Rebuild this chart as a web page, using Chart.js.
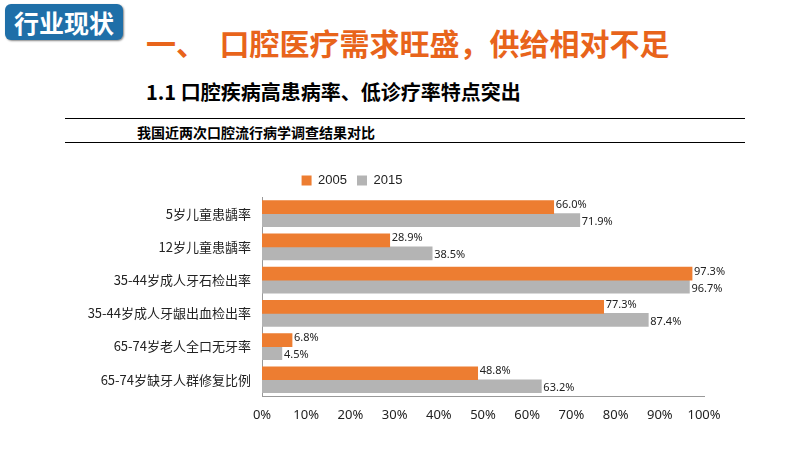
<!DOCTYPE html>
<html><head><meta charset="utf-8">
<script src="https://cdn.jsdelivr.net/npm/chart.js@4"></script>
<style>
body{margin:0;width:800px;height:450px;background:#fff;font-family:"Noto Sans CJK SC",sans-serif;position:relative;overflow:hidden}
.tag{position:absolute;left:5px;top:4px;width:118px;height:36px;background:#1f6fa8;border-radius:6px;color:#fff;font-size:25px;font-weight:bold;line-height:36px;text-align:center;box-shadow:1px 1px 2px #888}
.t1{position:absolute;left:146px;top:20px;color:#e8641b;font-size:30px;font-weight:bold;white-space:pre}
.t2{position:absolute;left:146px;top:77px;color:#000;font-size:20px;font-weight:bold}
.ln{position:absolute;left:65px;width:680px;border-top:1.5px solid #000}
.t3{position:absolute;left:137px;top:122px;font-size:14px;font-weight:bold}
#c{position:absolute;left:0;top:150px}
</style></head><body>
<div class="tag">行业现状</div>
<div class="t1">一、  口腔医疗需求旺盛，供给相对不足</div>
<div class="t2">1.1 口腔疾病高患病率、低诊疗率特点突出</div>
<div class="ln" style="top:118px"></div>
<div class="t3">我国近两次口腔流行病学调查结果对比</div>
<div class="ln" style="top:142px"></div>
<canvas id="c" width="800" height="300"></canvas>
<script>
const categories = ["5岁儿童患龋率","12岁儿童患龋率","35-44岁成人牙石检出率","35-44岁成人牙龈出血检出率","65-74岁老人全口无牙率","65-74岁缺牙人群修复比例"];
const values2005 = [66.0, 28.9, 97.3, 77.3, 6.8, 48.8];
const values2015 = [71.9, 38.5, 96.7, 87.4, 4.5, 63.2];

const labelPlugin = {
  id: "labels",
  afterDatasetsDraw(chart) {
    const ctx = chart.ctx;
    ctx.save();
    ctx.font = "11px 'Noto Sans', sans-serif";
    ctx.fillStyle = "#222";
    ctx.textBaseline = "middle";
    chart.data.datasets.forEach((ds, i) => {
      chart.getDatasetMeta(i).data.forEach((bar, j) => {
        ctx.fillText(ds.data[j].toFixed(1) + "%", bar.x + 2, bar.y + (i === 0 ? -2 : 2));
      });
    });
    ctx.restore();
  }
};

new Chart(document.getElementById("c"), {
  type: "bar",
  data: {
    labels: categories,
    datasets: [
      { label: "2005", data: values2005, backgroundColor: "#ed7d31", barThickness: 13 },
      { label: "2015", data: values2015, backgroundColor: "#b4b4b4", barThickness: 13 }
    ]
  },
  options: {
    indexAxis: "y",
    responsive: false,
    animation: false,
    layout: { padding: { left: 0, right: 96, top: 14, bottom: 24 } },
    scales: {
      x: {
        min: 0, max: 100,
        ticks: { stepSize: 10, callback: v => v + "%", color: "#222", font: { size: 13, family: "'Noto Sans', sans-serif" } },
        grid: { display: false },
        border: { color: "#999" }
      },
      y: {
        afterFit(s) { s.width = 262; },
        ticks: { color: "#222", font: { size: 13, family: "'Noto Sans CJK SC', sans-serif" } },
        grid: { display: false },
        border: { color: "#999" }
      }
    },
    plugins: {
      legend: { position: "top", labels: { boxWidth: 10, boxHeight: 10, color: "#222", font: { size: 13 } } },
      tooltip: { enabled: false }
    }
  },
  plugins: [labelPlugin]
});
</script>
</body></html>
